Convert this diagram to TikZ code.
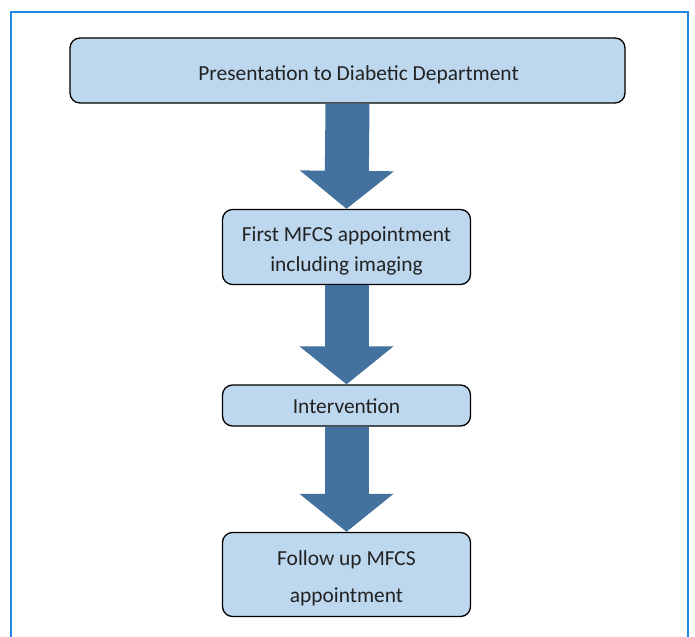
\documentclass[tikz,border=0pt]{standalone}
\usepackage{fontspec}
\setmainfont{Carlito}
\usetikzlibrary{arrows.meta}
\definecolor{boxfill}{HTML}{BDD7EE}
\definecolor{arrowfill}{HTML}{44729E}
\definecolor{framecol}{HTML}{1E88E5}
\definecolor{textcol}{HTML}{222222}
\newcommand{\topstrut}[1]{\rule{0pt}{#1}}
\begin{document}
\begin{tikzpicture}[x=1bp,y=-1bp,
  stepbox/.style={draw=black, line width=1.3bp, fill=boxfill, rounded corners=10bp,
    minimum width=248bp, align=center, inner sep=0pt, text=textcol,
    font=\fontsize{21.5}{30}\selectfont},
  flow/.style={draw=arrowfill, line width=44bp, -{Triangle[width=92bp,length=38bp]}},
  framestyle/.style={draw=framecol, line width=1.5bp}]
\useasboundingbox (0,0) rectangle (695,637);
\draw[framestyle] (11,640) -- (11,12) -- (688,12) -- (688,640);
\node[stepbox, minimum width=555bp, minimum height=65bp] (pres) at (347.5,70.5) {\topstrut{24bp}\hspace*{22bp}Presentation to Diabetic Department};
\node[stepbox, minimum height=75bp] (first) at (346.5,247) {\topstrut{22bp}First MFCS appointment\\including imaging};
\node[stepbox, minimum height=41bp] (inter) at (346.5,405.5) {\topstrut{17bp}Intervention};
\node[stepbox, minimum height=84bp, font=\fontsize{21.5}{37}\selectfont] (follow) at (346.5,574.5) {\topstrut{22bp}Follow up MFCS\\appointment};
\draw[flow] (pres.south) -- (first.north);
\draw[flow] (first.south) -- (inter.north);
\draw[flow] (inter.south) -- (follow.north);
\end{tikzpicture}
\end{document}
